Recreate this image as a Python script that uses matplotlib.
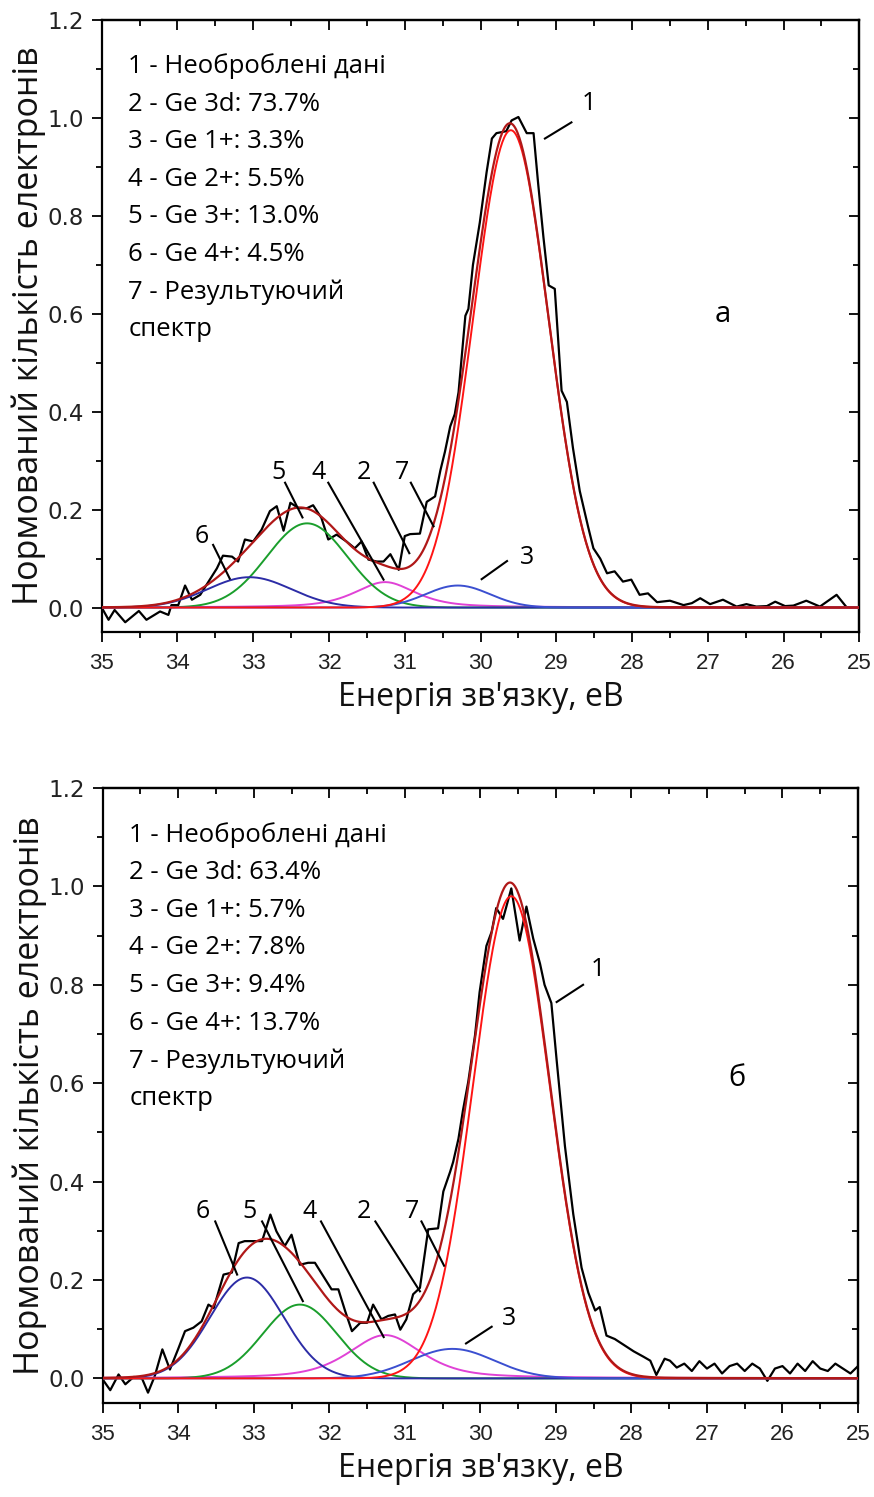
import numpy as np
import matplotlib
matplotlib.use('Agg')
import matplotlib.pyplot as plt
from matplotlib.ticker import MultipleLocator

# ---------------- data: panel "а" ----------------
raw_a_x = [35.00, 34.91, 34.83, 34.69, 34.51, 34.41, 34.23, 34.12, 34.08, 33.99,
           33.90, 33.81, 33.70, 33.48, 33.40, 33.28, 33.20, 33.11, 33.00, 32.89,
           32.78, 32.69, 32.60, 32.51, 32.40, 32.29, 32.21, 32.10, 32.01, 31.90,
           31.77, 31.66, 31.57, 31.48, 31.37, 31.28, 31.19, 31.08, 31.00, 30.93,
           30.80, 30.71, 30.60, 30.53, 30.47, 30.40, 30.34, 30.29, 30.20, 30.16,
           30.10, 30.01, 29.92, 29.85, 29.79, 29.66, 29.59, 29.50, 29.39, 29.30,
           29.24, 29.17, 29.10, 29.02, 28.93, 28.86, 28.78, 28.69, 28.58, 28.51,
           28.42, 28.33, 28.23, 28.12, 28.01, 27.90, 27.79, 27.67, 27.50, 27.32,
           27.21, 27.10, 26.97, 26.80, 26.62, 26.49, 26.36, 26.22, 26.11, 25.98,
           25.87, 25.70, 25.52, 25.30, 25.17, 25.08]
raw_a_y = [0.000, -0.025, -0.005, -0.030, -0.007, -0.025, -0.008, -0.015, 0.005, 0.005,
           0.045, 0.016, 0.026, 0.080, 0.106, 0.104, 0.094, 0.139, 0.135, 0.159,
           0.197, 0.207, 0.157, 0.214, 0.203, 0.203, 0.209, 0.183, 0.139, 0.149,
           0.135, 0.121, 0.135, 0.098, 0.094, 0.094, 0.109, 0.077, 0.146, 0.150,
           0.151, 0.216, 0.227, 0.280, 0.318, 0.370, 0.395, 0.440, 0.596, 0.610,
           0.700, 0.786, 0.889, 0.958, 0.969, 0.973, 0.995, 1.002, 0.969, 0.969,
           0.867, 0.757, 0.658, 0.651, 0.443, 0.420, 0.326, 0.238, 0.165, 0.121,
           0.100, 0.070, 0.074, 0.053, 0.057, 0.026, 0.029, 0.011, 0.014, 0.005,
           0.009, 0.019, 0.007, 0.016, 0.002, 0.007, 0.002, 0.003, 0.012, 0.003,
           0.004, 0.014, 0.002, 0.026, 0.001, 0.000]

# ---------------- data: panel "б" ----------------
raw_b_x = [35.01, 34.90, 34.79, 34.70, 34.59, 34.48, 34.40, 34.31, 34.21, 34.11,
           34.00, 33.91, 33.80, 33.69, 33.60, 33.53, 33.40, 33.29, 33.20, 33.12,
           33.00, 32.89, 32.78, 32.70, 32.59, 32.50, 32.39, 32.28, 32.19, 32.08,
           31.97, 31.88, 31.79, 31.70, 31.59, 31.50, 31.42, 31.31, 31.22, 31.13,
           31.06, 30.98, 30.89, 30.80, 30.69, 30.56, 30.49, 30.40, 30.36, 30.29,
           30.23, 30.16, 30.07, 30.01, 29.92, 29.85, 29.79, 29.70, 29.59, 29.48,
           29.39, 29.30, 29.21, 29.15, 29.06, 28.99, 28.88, 28.77, 28.66, 28.57,
           28.48, 28.42, 28.33, 28.22, 28.11, 27.97, 27.84, 27.75, 27.67, 27.56,
           27.49, 27.40, 27.30, 27.20, 27.10, 27.00, 26.90, 26.80, 26.70, 26.60,
           26.50, 26.40, 26.30, 26.20, 26.10, 26.00, 25.90, 25.80, 25.70, 25.60,
           25.50, 25.40, 25.30, 25.20, 25.10, 25.00]
raw_b_y = [0.000, -0.024, 0.008, -0.012, 0.003, 0.000, -0.029, 0.005, 0.059, 0.018,
           0.060, 0.096, 0.103, 0.116, 0.150, 0.143, 0.211, 0.215, 0.275, 0.279,
           0.279, 0.279, 0.333, 0.299, 0.269, 0.292, 0.231, 0.235, 0.235, 0.208,
           0.181, 0.181, 0.137, 0.096, 0.113, 0.113, 0.150, 0.120, 0.127, 0.130,
           0.099, 0.120, 0.171, 0.184, 0.303, 0.305, 0.380, 0.420, 0.440, 0.487,
           0.545, 0.603, 0.698, 0.785, 0.879, 0.908, 0.956, 0.934, 0.996, 0.890,
           0.959, 0.894, 0.843, 0.800, 0.763, 0.647, 0.472, 0.334, 0.225, 0.174,
           0.138, 0.145, 0.087, 0.080, 0.069, 0.055, 0.044, 0.036, 0.007, 0.040,
           0.036, 0.022, 0.030, 0.015, 0.035, 0.020, 0.030, 0.010, 0.025, 0.030,
           0.015, 0.030, 0.020, -0.005, 0.020, 0.025, 0.010, 0.030, 0.015, 0.035,
           0.020, 0.015, 0.030, 0.020, 0.010, 0.025]

# fitted components: Ge 3d, Ge 1+, Ge 2+, Ge 3+, Ge 4+
comp_colors = ['#ff1414', '#3b4fd0', '#e042d6', '#1a9e2c', '#2c2ca6']
a_center = [29.60, 30.30, 31.26, 32.29, 33.05]
a_height = [0.975, 0.045, 0.052, 0.172, 0.062]
a_fwhm = [1.17, 1.00, 0.95, 1.25, 1.30]
a_eta = [0.0, 0.0, 0.6, 0.0, 0.0]
b_center = [29.59, 30.37, 31.26, 32.39, 33.09]
b_height = [0.980, 0.060, 0.088, 0.150, 0.205]
b_fwhm = [1.20, 1.30, 1.15, 1.15, 1.15]
b_eta = [0.0, 0.0, 0.55, 0.0, 0.0]
total_color = '#b01818'

legend_a = ['1 - Необроблені дані', '2 - Ge 3d: 73.7%', '3 - Ge 1+: 3.3%',
            '4 - Ge 2+: 5.5%', '5 - Ge 3+: 13.0%', '6 - Ge 4+: 4.5%',
            '7 - Результуючий', 'спектр']
legend_b = ['1 - Необроблені дані', '2 - Ge 3d: 63.4%', '3 - Ge 1+: 5.7%',
            '4 - Ge 2+: 7.8%', '5 - Ge 3+: 9.4%', '6 - Ge 4+: 13.7%',
            '7 - Результуючий', 'спектр']

# annotation labels: text, label position, leader line start, leader line end
ann_a_text = ['1', '3', '6', '5', '4', '2', '7']
ann_a_pos = [(28.57, 1.03), (29.39, 0.103), (33.68, 0.145), (32.67, 0.275),
             (32.14, 0.275), (31.54, 0.275), (31.04, 0.275)]
ann_a_l0 = [(28.80, 0.991), (29.65, 0.095), (33.53, 0.128), (32.58, 0.255),
            (32.01, 0.255), (31.41, 0.255), (30.92, 0.255)]
ann_a_l1 = [(29.15, 0.958), (29.985, 0.058), (33.31, 0.059), (32.35, 0.184),
            (31.28, 0.057), (30.94, 0.111), (30.62, 0.166)]

ann_b_text = ['1', '3', '6', '5', '4', '2', '7']
ann_b_pos = [(28.44, 0.832), (29.62, 0.122), (33.67, 0.340), (33.06, 0.340),
             (32.26, 0.340), (31.54, 0.340), (30.91, 0.340)]
ann_b_l0 = [(28.64, 0.800), (29.85, 0.105), (33.51, 0.319), (32.89, 0.319),
            (32.11, 0.319), (31.39, 0.319), (30.78, 0.319)]
ann_b_l1 = [(28.99, 0.765), (30.19, 0.071), (33.22, 0.211), (32.35, 0.157),
            (31.28, 0.084), (30.80, 0.177), (30.48, 0.229)]

panel_letters = ['а', 'б']
letter_pos = [(26.80, 0.598), (26.60, 0.609)]

x_label = "Енергія зв'язку, еВ"
y_label = 'Нормований кількість електронів'

TEXT_FONT = ['Open Sans', 'DejaVu Sans']
TICK_FONT = ['Liberation Sans', 'DejaVu Sans']
YTICK_FONT = ['DejaVu Sans']


def peak(x, c, h, fwhm, eta):
    g = np.exp(-4 * np.log(2) * ((x - c) / fwhm) ** 2)
    l = 1.0 / (1.0 + 4 * ((x - c) / fwhm) ** 2)
    return h * ((1 - eta) * g + eta * l)


fig = plt.figure(figsize=(8.74, 14.97), dpi=100)
ax_a = fig.add_axes([0.1164, 0.5778, 0.8668, 0.4088])
ax_b = fig.add_axes([0.1175, 0.0628, 0.8642, 0.4108])

panels = [
    (ax_a, raw_a_x, raw_a_y, a_center, a_height, a_fwhm, a_eta, legend_a,
     ann_a_text, ann_a_pos, ann_a_l0, ann_a_l1),
    (ax_b, raw_b_x, raw_b_y, b_center, b_height, b_fwhm, b_eta, legend_b,
     ann_b_text, ann_b_pos, ann_b_l0, ann_b_l1),
]

xticks = [35, 34, 33, 32, 31, 30, 29, 28, 27, 26, 25]
yticks = [0.0, 0.2, 0.4, 0.6, 0.8, 1.0, 1.2]

xs = np.linspace(35, 25, 801)
for i, (ax, rx, ry, cen, hei, fw, et, leg, atext, apos, al0, al1) in enumerate(panels):
    ax.plot(rx, ry, color='black', lw=1.6, zorder=3)
    comps = [peak(xs, c, h, f, e) for c, h, f, e in zip(cen, hei, fw, et)]
    order = [2, 3, 4, 1, 0]
    for k in order:
        ax.plot(xs, comps[k], color=comp_colors[k], lw=1.4, zorder=4)
    ax.plot(xs, np.sum(comps, axis=0), color=total_color, lw=1.6, zorder=5)

    ax.set_xlim(35, 25)
    ax.set_ylim(-0.05, 1.2)
    ax.set_xticks(xticks)
    ax.set_xticklabels([str(v) for v in xticks])
    ax.set_yticks(yticks)
    ax.set_yticklabels(['%.1f' % v for v in yticks])
    ax.xaxis.set_minor_locator(MultipleLocator(0.5))
    ax.yaxis.set_minor_locator(MultipleLocator(0.1))
    ax.tick_params(axis='both', which='major', direction='out', length=7, width=1.3,
                   labelsize=16, pad=6, colors='black')
    ax.tick_params(axis='x', which='major', pad=8)
    ax.tick_params(axis='both', which='minor', direction='out', length=4, width=1.3)
    for lab in ax.get_xticklabels():
        lab.set_family(TICK_FONT)
        lab.set_color('#222222')
    for lab in ax.get_yticklabels():
        lab.set_family(YTICK_FONT)
        lab.set_fontsize(16.5)
        lab.set_color('#222222')
    sx = ax.secondary_xaxis('top')
    sx.set_xticks(xticks)
    sx.xaxis.set_minor_locator(MultipleLocator(0.5))
    sx.tick_params(which='major', direction='in', length=7, width=1.3, labeltop=False)
    sx.tick_params(which='minor', direction='in', length=4, width=1.3)
    sx.spines['top'].set_linewidth(1.6)
    sy = ax.secondary_yaxis('right')
    sy.set_yticks(yticks)
    sy.yaxis.set_minor_locator(MultipleLocator(0.1))
    sy.tick_params(which='major', direction='in', length=7, width=1.3, labelright=False)
    sy.tick_params(which='minor', direction='in', length=4, width=1.3)
    sy.spines['right'].set_linewidth(1.6)
    for s in ax.spines.values():
        s.set_linewidth(1.6)

    ax.set_xlabel(x_label, fontsize=23, family=TEXT_FONT, labelpad=5, color='#111111')
    ax.set_ylabel(y_label, fontsize=24.5, family=TEXT_FONT, labelpad=1, color='#111111')

    y0 = 1.105
    for j, line in enumerate(leg):
        ax.text(34.65, y0 - j * 0.0767, line, fontsize=18.5, family=TEXT_FONT,
                va='center', ha='left', color='black', zorder=6)
    for t, p, l0, l1 in zip(atext, apos, al0, al1):
        ax.text(p[0], p[1], t, fontsize=18, family=TEXT_FONT, ha='center',
                va='center', color='black', zorder=6)
        ax.plot([l0[0], l1[0]], [l0[1], l1[1]], color='black', lw=1.5, zorder=6)
    ax.text(letter_pos[i][0], letter_pos[i][1], panel_letters[i], fontsize=21,
            family=TEXT_FONT, ha='center', va='center', color='black')

fig.savefig('out.png', dpi=100)
